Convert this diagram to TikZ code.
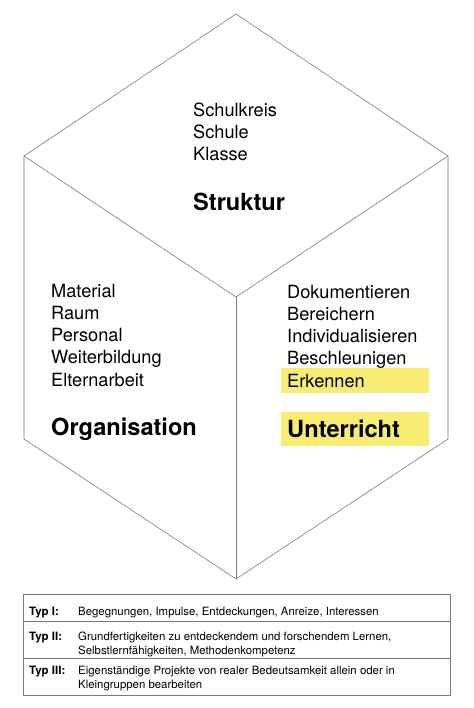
\documentclass[tikz,border=0pt]{standalone}
\usepackage{fontspec}
\setmainfont{TeX Gyre Heros}
\definecolor{markyellow}{HTML}{F8EC74}
\definecolor{edgegray}{HTML}{7A7A7A}
\tikzset{%
  % Specifications for style of nodes:
        item/.style = {anchor=base west, inner sep=0pt,
                       font=\fontsize{18.2}{22}\selectfont},
       title/.style = {anchor=base west, inner sep=0pt,
                       font=\fontsize{23.6}{26}\selectfont\bfseries},
     typname/.style = {anchor=base west, inner sep=0pt,
                       font=\fontsize{11.5}{14}\selectfont\bfseries},
     typtext/.style = {anchor=base west, inner sep=0pt, align=left,
                       font=\fontsize{11.4}{14}\selectfont},
        edge/.style = {draw=edgegray, line width=0.6pt},
      marker/.style = {fill=markyellow},
}

\begin{document}
\begin{tikzpicture}[x=1pt, y=-1pt]
  \useasboundingbox (0,0) rectangle (473,708);

  % Corners of the cube
  \coordinate (top)    at (236,14);
  \coordinate (left)   at (24,156);
  \coordinate (right)  at (448,156);
  \coordinate (centre) at (236,297);
  \coordinate (lowL)   at (24,439);
  \coordinate (lowR)   at (448,439);
  \coordinate (bottom) at (236,579);

  % Yellow markers behind the text
  \fill[marker] (281,368) rectangle (429,393);
  \fill[marker] (281,412) rectangle (429,446);

  \draw[edge] (top) -- (right) -- (lowR) -- (bottom) -- (lowL) -- (left) -- cycle;
  \draw[edge] (left) -- (centre) -- (right);
  \draw[edge] (centre) -- (bottom);

  % Top face
  \foreach \t [count=\i] in {Schulkreis, Schule, Klasse}
    \node (struk\i) [item] at (193,95+22*\i) {\t};
  \node (struktur) [title] at (193,211) {Struktur};

  % Left face
  \foreach \t [count=\i] in {Material, Raum, Personal, Weiterbildung, Elternarbeit}
    \node (orga\i) [item] at (51,275+22.2*\i) {\t};
  \node (organisation) [title] at (51,435) {Organisation};

  % Right face
  \foreach \t [count=\i] in {Dokumentieren, Bereichern, Individualisieren, Beschleunigen, Erkennen}
    \node (unt\i) [item] at (287,276+22.2*\i) {\t};
  \node (unterricht) [title] at (287,437) {Unterricht};

  % Table of the three types
  \draw[edge] (23,594) rectangle (450,695);
  \draw[edge] (23,621) -- (450,621);
  \draw[edge] (23,658) -- (450,658);

  \node (typ1) [typname] at (29,615) {Typ I:};
  \node (typ2) [typname] at (29,640) {Typ II:};
  \node (typ3) [typname] at (29,674) {Typ III:};
  % the base of a two-line node is its last line
  \node (text1) [typtext] at (78,615) {Begegnungen, Impulse, Entdeckungen, Anreize, Interessen};
  \node (text2) [typtext] at (78,654) {Grundfertigkeiten zu entdeckendem und forschendem Lernen,\\Selbstlernfähigkeiten, Methodenkompetenz};
  \node (text3) [typtext] at (78,688) {Eigenständige Projekte von realer Bedeutsamkeit allein oder in\\Kleingruppen bearbeiten};
\end{tikzpicture}
\end{document}
